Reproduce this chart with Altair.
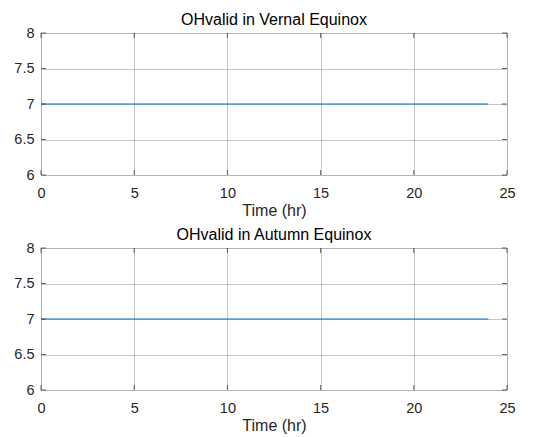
import altair as alt
import pandas as pd

# ---- data ----
time_hr = [0, 1, 2, 3, 4, 5, 6, 7, 8, 9, 10, 11, 12, 13, 14, 15, 16, 17, 18, 19, 20, 21, 22, 23, 24]
oh_vernal = [7, 7, 7, 7, 7, 7, 7, 7, 7, 7, 7, 7, 7, 7, 7, 7, 7, 7, 7, 7, 7, 7, 7, 7, 7]
oh_autumn = [7, 7, 7, 7, 7, 7, 7, 7, 7, 7, 7, 7, 7, 7, 7, 7, 7, 7, 7, 7, 7, 7, 7, 7, 7]
x_ticks = [0, 5, 10, 15, 20, 25]
y_ticks = [6, 6.5, 7, 7.5, 8]
titles = ["OHvalid in Vernal Equinox", "OHvalid in Autumn Equinox"]

W, H = 466, 142
FONT = "Liberation Sans"
AX = "#262626"

xt = pd.DataFrame({"t": x_ticks})
yt = pd.DataFrame({"v": y_ticks})

xscale = alt.Scale(domain=[0, 25], nice=False, zero=False)
yscale = alt.Scale(domain=[6, 8], nice=False, zero=False)

X_AX = alt.Axis(values=x_ticks, title="Time (hr)", format="d",
                ticks=False, domain=False, labelPadding=11,
                labelFontSize=14.5, titleFontSize=16,
                titleFontWeight="normal", titlePadding=3,
                labelColor=AX, titleColor=AX, labelFont=FONT,
                titleFont=FONT, grid=True, gridColor="#8a8a8a",
                gridDash=[1, 1], gridWidth=1, labelFlush=False,
                labelOverlap=False, orient="bottom")
Y_AX = alt.Axis(values=y_ticks, title=None, format=".1~f",
                ticks=False, domain=False, labelPadding=7,
                labelFontSize=14.5, labelColor=AX, labelFont=FONT,
                grid=True, gridColor="#8a8a8a", gridDash=[1, 1],
                gridWidth=1, labelFlush=False, labelOverlap=False,
                orient="left")


def xf(field):
    return alt.X(field, type="quantitative", scale=xscale, axis=X_AX)


def yf(field):
    return alt.Y(field, type="quantitative", scale=yscale, axis=Y_AX)


def xd(v):
    return alt.XDatum(v, type="quantitative", scale=xscale, axis=X_AX)


def yd(v):
    return alt.YDatum(v, type="quantitative", scale=yscale, axis=Y_AX)


def panel(values, title):
    df = pd.DataFrame({"time": time_hr, "oh": values})
    line = alt.Chart(df).mark_line(color="#0072BD", strokeWidth=1.2).encode(
        x=xf("time"), y=yf("oh"))
    top_t = alt.Chart(xt).mark_tick(orient="vertical", size=5, thickness=1,
                                     yOffset=2.5, color=AX).encode(
        x=xf("t"), y=yd(8))
    bot_t = alt.Chart(xt).mark_tick(orient="vertical", size=5, thickness=1,
                                     yOffset=-2.5, color=AX).encode(
        x=xf("t"), y=yd(6))
    left_t = alt.Chart(yt).mark_tick(orient="horizontal", size=5, thickness=1,
                                      xOffset=2.5, color=AX).encode(
        y=yf("v"), x=xd(0))
    right_t = alt.Chart(yt).mark_tick(orient="horizontal", size=5, thickness=1,
                                       xOffset=-2.5, color=AX).encode(
        y=yf("v"), x=xd(25))
    ttl = alt.Chart(pd.DataFrame({"label": [title]})).mark_text(
        font=FONT, fontSize=16, color="#000000", align="center",
        baseline="alphabetic", dy=-8).encode(
        x=xd(12.5), y=yd(8), text="label:N")
    return alt.layer(line, top_t, bot_t, left_t, right_t, ttl).properties(
        width=W, height=H)


chart = alt.vconcat(panel(oh_vernal, titles[0]), panel(oh_autumn, titles[1]),
                    spacing=73, bounds="flush").properties(
    padding={"left": 13, "top": 11, "right": 5, "bottom": 5},
).configure_view(stroke=AX, strokeWidth=1).configure(background="white")

chart.save("out.html", embed_options={"renderer": "svg", "actions": False})
